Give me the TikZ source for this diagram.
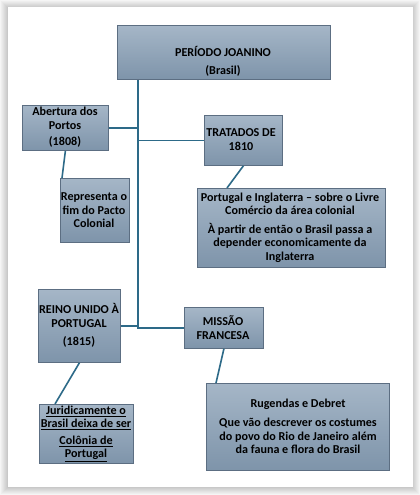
\documentclass[tikz,border=0pt]{standalone}
\usepackage{fontspec}
\setmainfont{Carlito}
\definecolor{boxtop}{RGB}{165,182,199}
\definecolor{boxbot}{RGB}{126,148,170}
\definecolor{boxedge}{RGB}{92,110,130}
\definecolor{conn}{RGB}{45,106,136}
\begin{document}
\begin{tikzpicture}[x=1pt,y=-1pt,
  box/.style={draw=boxedge,line width=0.8pt,top color=boxtop,bottom color=boxbot,
    anchor=north west,inner sep=0pt,minimum width=#1},
  txt/.style={font=\fontsize{12.1}{13.5}\selectfont\bfseries,align=center,inner sep=0pt,text=black},
  link/.style={draw=conn,line width=1.6pt}]
\useasboundingbox (0,0) rectangle (420,495);
% page shadow
\foreach \i in {0,...,7}{
  \pgfmathsetmacro{\g}{8+\i*5}
  \fill[gray!\g] (\i,\i) rectangle (420-\i,495-\i);
}
\fill[white] (8,7) rectangle (413,487);
% boxes
\node[box=213pt,minimum height=54pt] (PJ) at (117,25) {};
\node[box=86pt,minimum height=45pt] (AP) at (22,105) {};
\node[box=78pt,minimum height=50pt] (TR) at (204,115) {};
\node[box=69pt,minimum height=64pt] (RP) at (60,178) {};
\node[box=188pt,minimum height=79pt] (PI) at (197,188) {};
\node[box=82pt,minimum height=73pt] (RU) at (38,289) {};
\node[box=79pt,minimum height=41pt] (MF) at (184,307) {};
\node[box=94pt,minimum height=59pt] (JB) at (39,404) {};
\node[box=183pt,minimum height=87pt] (RD) at (206,383) {};
% texts
\node[txt] (tPJ) at (223,61.5) {PERÍODO JOANINO\\[5pt](Brasil)};
\node[txt] (tAP) at (65,127.5) {Abertura dos\\Portos\\[3pt](1808)};
\node[txt] (tTR) at (241,139.5) {TRATADOS DE\\1810};
\node[txt] (tRP) at (94,210.5) {Representa o\\fim do Pacto\\Colonial};
\node[txt] (tPI) at (290,227.5) {Portugal e Inglaterra – sobre o Livre\\Comércio da área colonial\\[5pt]À partir de então o Brasil passa a\\depender economicamente da\\Inglaterra};
\node[txt] (tRU) at (79,325.5) {REINO UNIDO À\\PORTUGAL\\[5pt](1815)};
\node[txt] (tMF) at (223,327.5) {MISSÃO\\FRANCESA};
\node[txt] (tJB) at (86,434) {\underline{Juridicamente o}\\\underline{Brasil deixa de ser}\\[3pt]\underline{Colônia de}\\\underline{Portugal}};
\node[txt] (tRD) at (298,426.5) {Rugendas e Debret\\[6pt]Que vão descrever os costumes\\do povo do Rio de Janeiro além\\da fauna e flora do Brasil};
% connectors
\coordinate (tk) at (138,0);
\draw[link] (PJ.south -| tk) -- (MF.west -| tk) -- (MF.west);
\draw[link] (AP.east) -- (AP.east -| tk);
\draw[link] (TR.west -| tk) -- (TR.west);
\draw[link] (RU.east) -- (RU.east -| tk);
\draw[link] (AP.south) -- ([xshift=2pt]RP.north west);
\draw[link] (TR.south) -- ([xshift=30pt]PI.north west);
\draw[link] (RU.south) -- ([xshift=16pt]JB.north west);
\draw[link] (MF.south) -- ([xshift=10pt]RD.north west);
\end{tikzpicture}
\end{document}
